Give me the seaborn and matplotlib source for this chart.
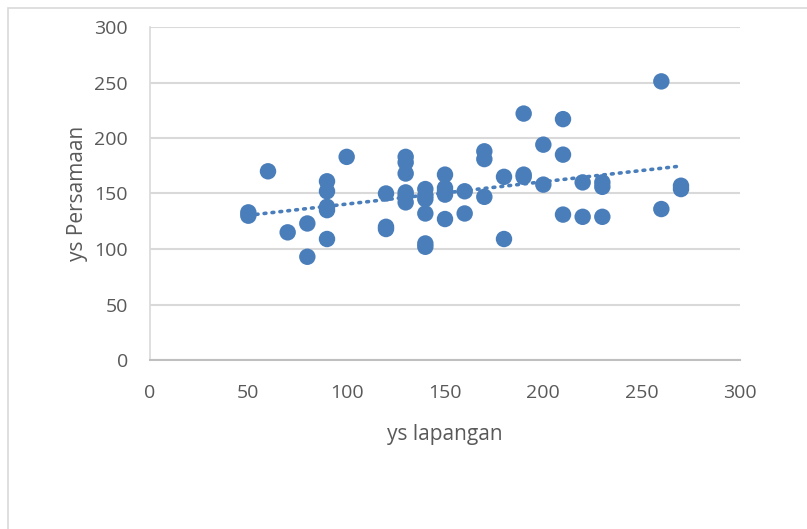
import matplotlib
matplotlib.use('Agg')
import matplotlib.pyplot as plt
import numpy as np
import pandas as pd
import seaborn as sns
from matplotlib.patches import Rectangle

# data
ys_lapangan = [50, 50, 60, 70, 80, 80, 90, 90, 90, 90, 90, 100,
               120, 120, 120, 130, 130, 130, 130, 130, 130,
               140, 140, 140, 140, 140, 140, 150, 150, 150, 150, 150,
               160, 160, 170, 170, 170, 180, 180, 190, 190, 190,
               200, 200, 210, 210, 210, 220, 220, 230, 230, 230,
               260, 260, 270, 270]
ys_persamaan = [133, 130, 170, 115, 123, 93, 161, 152, 138, 135, 109, 183,
                150, 120, 118, 183, 178, 168, 151, 148, 142,
                154, 148, 145, 132, 105, 102, 167, 155, 152, 149, 127,
                152, 132, 188, 181, 147, 165, 109, 222, 167, 165,
                194, 158, 217, 185, 131, 160, 129, 160, 156, 129,
                251, 136, 157, 154]
x_ticks = [0, 50, 100, 150, 200, 250, 300]
y_ticks = [0, 50, 100, 150, 200, 250, 300]

df = pd.DataFrame({'ys lapangan': ys_lapangan, 'ys Persamaan': ys_persamaan})

sns.set_style('white')
plt.rcParams['font.family'] = ['Open Sans', 'DejaVu Sans']

blue = '#4a7ebb'
grey_text = '#595959'

fig = plt.figure(figsize=(8.07, 5.29), dpi=100)
ax = fig.add_axes([150 / 807, 1 - 360 / 529, 590 / 807, 333 / 529])

sns.scatterplot(data=df, x='ys lapangan', y='ys Persamaan', ax=ax,
                color=blue, s=140, edgecolor='none', zorder=3)

# linear trendline
k, b = np.polyfit(ys_lapangan, ys_persamaan, 1)
tx = np.array([min(ys_lapangan), max(ys_lapangan)])
ax.plot(tx, k * tx + b, color=blue, lw=2.6, linestyle=(0, (0.5, 1.7)),
        dash_capstyle='round', zorder=2)

ax.set_xlim(0, 300)
ax.set_ylim(0, 300)
ax.set_xticks(x_ticks)
ax.set_yticks(y_ticks)
ax.yaxis.grid(True, color='#d9d9d9', lw=1.5)
ax.xaxis.grid(False)
ax.set_axisbelow(True)
for s in ['top', 'right']:
    ax.spines[s].set_visible(False)
ax.spines['left'].set_color('#d9d9d9')
ax.spines['bottom'].set_color('#bfbfbf')
ax.spines['left'].set_linewidth(1.2)
ax.spines['bottom'].set_linewidth(1.5)
ax.tick_params(axis='x', length=0, labelsize=14, colors=grey_text, pad=17)
ax.tick_params(axis='y', length=0, labelsize=14, colors=grey_text, pad=16)
ax.set_xlabel('ys lapangan', fontsize=15, color=grey_text, labelpad=16)
ax.set_ylabel('ys Persamaan', fontsize=15, color=grey_text, labelpad=4)

fig.patches.append(Rectangle((8 / 807, -0.05), 1, 1.05 - 8 / 529, transform=fig.transFigure,
                             fill=False, edgecolor='#d9d9d9', lw=1.2))

fig.savefig('out.png', dpi=100)
